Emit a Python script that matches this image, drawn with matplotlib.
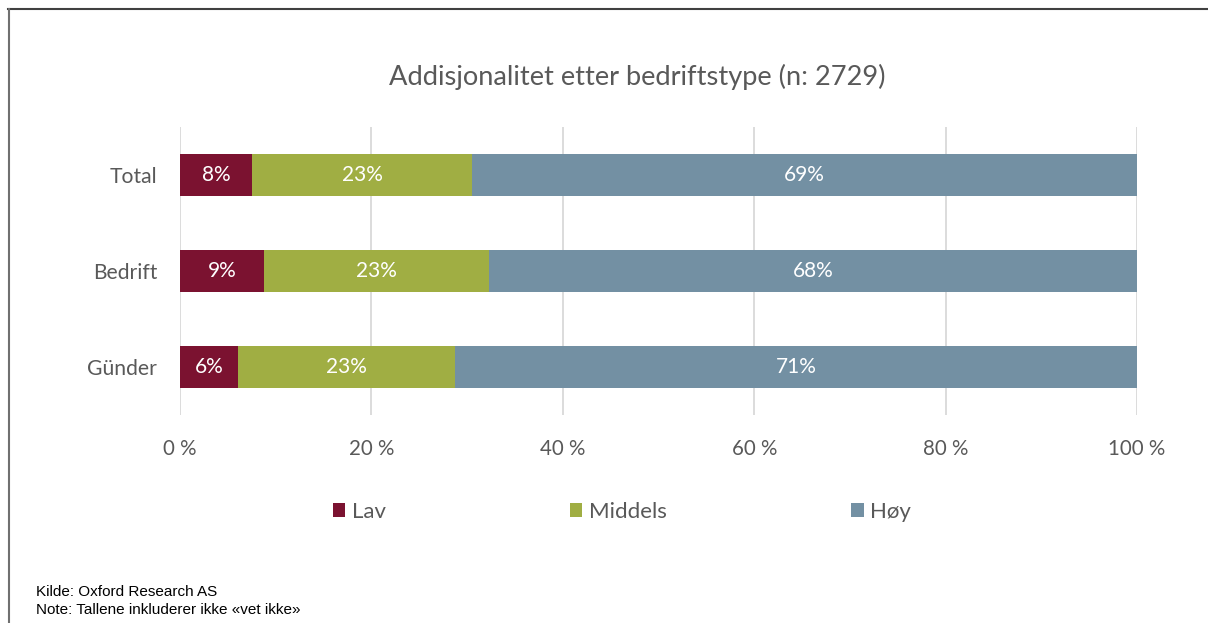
import matplotlib
matplotlib.use("Agg")
import matplotlib.pyplot as plt
from matplotlib.lines import Line2D
from matplotlib.patches import Patch

categories = ["Günder", "Bedrift", "Total"]
series_names = ["Lav", "Middels", "Høy"]
lav = [6.1, 8.8, 7.55]
middels = [22.6, 23.5, 22.95]
hoy = [71.3, 67.7, 69.5]
label_lav = ["6%", "9%", "8%"]
label_mid = ["23%", "23%", "23%"]
label_hoy = ["71%", "68%", "69%"]
xticks = [0, 20, 40, 60, 80, 100]
xtick_labels = ["0 %", "20 %", "40 %", "60 %", "80 %", "100 %"]
colors = ["#7B1230", "#A0AE43", "#7390A3"]
title = "Addisjonalitet etter bedriftstype (n: 2729)"
footer = ["Kilde: Oxford Research AS", "Note: Tallene inkluderer ikke «vet ikke»"]

plt.rcParams['font.family'] = ['Lato', 'DejaVu Sans']
TXT = "#595959"

W, H = 1208, 623
fig = plt.figure(figsize=(W / 100, H / 100), dpi=100)
ax = fig.add_axes([180 / W, 1 - 415 / H, (1137 - 180) / W, (415 - 127) / H])

ypos = list(range(len(categories)))
left = [0] * len(categories)
series = [lav, middels, hoy]
labels = [label_lav, label_mid, label_hoy]
for vals, labs, c, name in zip(series, labels, colors, series_names):
    ax.barh(ypos, vals, left=left, height=0.44, color=c, label=name, zorder=3)
    for y, v, l, lab in zip(ypos, vals, left, labs):
        ax.text(l + v / 2, y, lab, ha="center", va="center", color="white", fontsize=15, zorder=4)
    left = [a + b for a, b in zip(left, vals)]

ax.set_xlim(0, 100)
ax.set_ylim(-0.5, len(categories) - 0.5)
ax.set_xticks(xticks)
ax.set_xticklabels(xtick_labels, fontsize=14.8, color=TXT)
ax.set_yticks(ypos)
ax.set_yticklabels(categories, fontsize=15.2, color=TXT)
ax.tick_params(axis="both", length=0)
ax.tick_params(axis="x", pad=17)
ax.tick_params(axis="y", pad=16.5)
for s in ax.spines.values():
    s.set_visible(False)
ax.grid(axis="x", color="#D9D9D9", linewidth=1.3, zorder=0)

fig.text(637 / W, 1 - 77 / H, title, ha="center", va="center", fontsize=19.6, color=TXT)

handles = [Patch(facecolor=c, edgecolor="none") for c in colors]
fig.legend(handles, series_names, loc="center", bbox_to_anchor=(622 / W, 1 - 512 / H),
           ncol=3, frameon=False, fontsize=16, labelcolor=TXT,
           handlelength=0.55, handleheight=0.55, handletextpad=0.3, columnspacing=8.3)

fig.text(36 / W, 1 - 592 / H, footer[0], ha="left", va="center", fontsize=11,
         family=['Liberation Sans'], color="black")
fig.text(36 / W, 1 - 610 / H, footer[1], ha="left", va="center", fontsize=11,
         family=['Liberation Sans'], color="black")

fig.add_artist(Line2D([8 / W, 1], [1 - 8.5 / H, 1 - 8.5 / H], transform=fig.transFigure, color="#404040", linewidth=1.5))
fig.add_artist(Line2D([8.5 / W, 8.5 / W], [0, 1 - 8.5 / H], transform=fig.transFigure, color="#707070", linewidth=1.5))

fig.savefig("out.png", dpi=100)
